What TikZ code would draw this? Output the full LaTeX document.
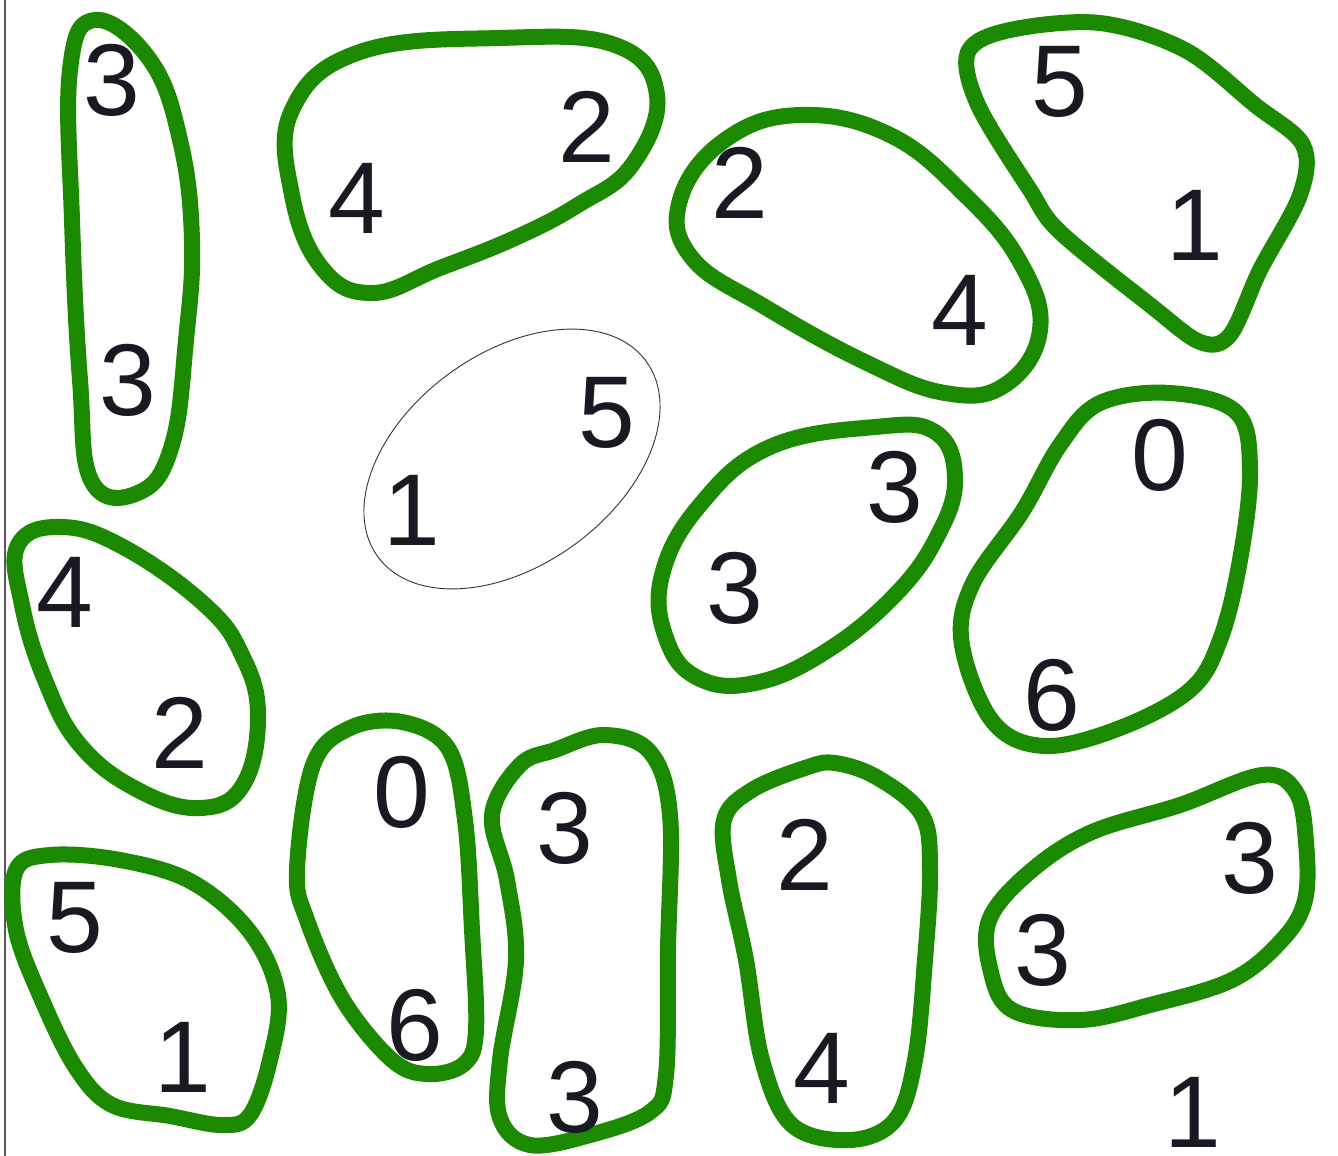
\documentclass[tikz,border=0pt]{standalone}
\usepackage{fontspec}
\setmainfont{Liberation Sans}
\definecolor{blobgreen}{RGB}{27,138,0}
\definecolor{digitc}{RGB}{25,25,35}
\begin{document}
\begin{tikzpicture}[x=1pt,y=-1pt,
  blob/.style={draw=blobgreen,line width=16pt,line join=round},
  digit/.style={text=digitc,font=\fontsize{102}{102}\selectfont,inner sep=0pt}]
\useasboundingbox (0,0) rectangle (1338,1156);
\fill[white] (0,0) rectangle (1338,1156);
\draw[gray!70!black,line width=1.2pt] (5,0) -- (5,1156);
% blobs
\draw[blob] plot[smooth cycle,tension=0.7] coordinates {(95,20) (150,60) (180,140) (192,240) (186,340) (172,445) (140,492) (92,482) (80,380) (72,220) (70,70)};
\draw[blob] plot[smooth cycle,tension=0.7] coordinates {(292,110) (360,52) (500,38) (615,45) (657,95) (632,165) (578,205) (515,238) (440,268) (372,293) (322,268) (292,195)};
\draw[blob] plot[smooth cycle,tension=0.7] coordinates {(680,200) (725,140) (800,115) (890,135) (965,195) (1020,262) (1040,330) (1005,385) (945,393) (865,362) (765,307) (692,258)};
\draw[blob] plot[smooth cycle,tension=0.55] coordinates {(968,52) (1010,30) (1100,23) (1185,50) (1255,105) (1303,145) (1300,195) (1260,270) (1230,335) (1200,342) (1150,305) (1060,232) (1030,190) (978,105)};
\draw[black!80,line width=0.9pt,rotate around={36:(512,459)}] (512,459) ellipse [x radius=166pt, y radius=106pt];
\draw[blob] plot[smooth cycle,tension=0.7] coordinates {(662,575) (700,505) (770,447) (875,427) (935,432) (955,478) (938,535) (895,595) (825,652) (755,683) (698,678) (666,638)};
\draw[blob] plot[smooth cycle,tension=0.6] coordinates {(1060,445) (1100,403) (1170,393) (1236,412) (1250,470) (1240,560) (1220,640) (1190,690) (1120,728) (1045,746) (993,722) (962,645) (972,585) (1022,512)};
\draw[blob] plot[smooth cycle,tension=0.7] coordinates {(18,545) (62,527) (125,548) (205,605) (242,655) (258,715) (243,785) (200,808) (138,790) (80,745) (45,680) (22,605)};
\draw[blob] plot[smooth cycle,tension=0.6] coordinates {(297,870) (313,765) (350,728) (402,722) (448,748) (465,820) (472,930) (476,1030) (464,1064) (428,1074) (392,1060) (343,1000) (307,920)};
\draw[blob] plot[smooth cycle,tension=0.6] coordinates {(492,815) (520,765) (555,750) (604,735) (650,752) (670,815) (668,950) (666,1075) (650,1112) (590,1135) (530,1145) (500,1118) (500,1060) (516,960) (507,880)};
\draw[blob] plot[smooth cycle,tension=0.6] coordinates {(724,820) (752,790) (805,768) (835,763) (878,778) (922,815) (930,870) (925,960) (915,1060) (895,1120) (850,1140) (792,1125) (762,1060) (746,960) (729,880)};
\draw[blob] plot[smooth cycle,tension=0.6] coordinates {(990,918) (1032,870) (1092,832) (1180,805) (1262,775) (1296,792) (1306,842) (1305,900) (1282,940) (1232,980) (1150,1005) (1080,1020) (1012,1010) (990,968)};
\draw[blob] plot[smooth cycle,tension=0.6] coordinates {(16,870) (50,855) (120,860) (192,882) (250,932) (278,995) (270,1060) (250,1115) (222,1125) (170,1116) (112,1105) (76,1068) (42,1000) (16,930)};
% digits
\node[digit] (a1) at (112,80) {3};
\node[digit] (a2) at (128,380) {3};
\node[digit] (b1) at (357,198) {4};
\node[digit] (b2) at (587,127) {2};
\node[digit] (c1) at (740,183) {2};
\node[digit] (c2) at (960,310) {4};
\node[digit] (d1) at (1060,82) {5};
\node[digit] (d2) at (1195,225) {1};
\node[digit] (e1) at (412,510) {1};
\node[digit] (e2) at (607,413) {5};
\node[digit] (f1) at (895,487) {3};
\node[digit] (f2) at (735,588) {3};
\node[digit] (g1) at (1160,455) {0};
\node[digit] (g2) at (1052,695) {6};
\node[digit] (h1) at (65,592) {4};
\node[digit] (h2) at (180,733) {2};
\node[digit] (i1) at (402,792) {0};
\node[digit] (i2) at (415,1025) {6};
\node[digit] (j1) at (565,828) {3};
\node[digit] (j2) at (575,1097) {3};
\node[digit] (k1) at (805,855) {2};
\node[digit] (k2) at (822,1068) {4};
\node[digit] (l1) at (1250,858) {3};
\node[digit] (l2) at (1043,950) {3};
\node[digit] (m1) at (75,918) {5};
\node[digit] (m2) at (183,1057) {1};
\node[digit] (n1) at (1193,1112) {1};
\end{tikzpicture}
\end{document}
